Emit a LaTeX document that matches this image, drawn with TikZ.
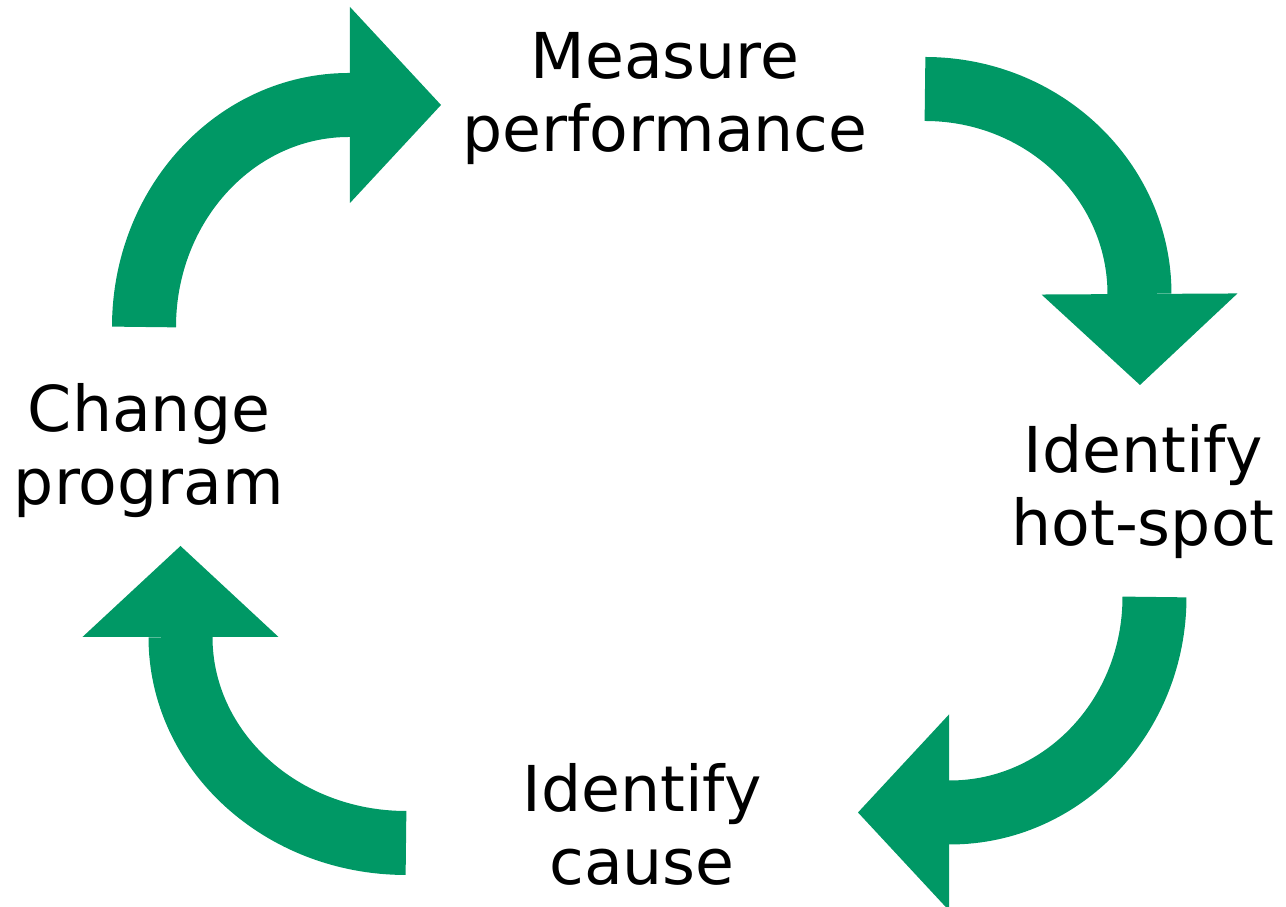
\documentclass[tikz,border=0pt]{standalone}
\usepackage{fontspec}
\setmainfont{DejaVu Sans}
\usetikzlibrary{arrows.meta}
\definecolor{cyclegreen}{RGB}{0,152,101}
\tikzset{
	phase/.style={align=center, anchor=base, inner sep=0pt, font=\fontsize{18}{20.8}\selectfont},
	cyclearrow/.style={draw=cyclegreen, line width=0.64cm,
		-{Triangle[width=1.96cm, length=0.91cm, line width=0pt]}}
}
\begin{document}
\begin{tikzpicture}
				\useasboundingbox (0,0) rectangle (12.86,9.07);
				
				\node[phase] (measure) at (6.65,7.55) {Measure\\performance};
				\node[phase] (hotspot) at (11.43,3.61) {Identify\\hot-spot};
				\node[phase] (cause) at (6.42,0.22) {Identify\\cause};
				\node[phase] (change) at (1.49,4.02) {Change\\program};
				
				\coordinate (a1) at (1.44,5.80);
				\coordinate (t1) at (4.41,8.02);
				\coordinate (a2) at (9.25,8.18);
				\coordinate (t2) at (11.40,5.22);
				\coordinate (a3) at (11.545,3.10);
				\coordinate (t3) at (8.58,0.945);
				\coordinate (a4) at (4.06,0.64);
				\coordinate (t4) at (1.805,3.61);
				
				\draw[cyclearrow] (a1) arc[start angle=180, end angle=90, x radius=2.05, y radius=2.22] -- (t1);
				\draw[cyclearrow] (a2) arc[start angle=90, end angle=0, x radius=2.145, y radius=2.05] -- (t2);
				\draw[cyclearrow] (a3) arc[start angle=0, end angle=-90, x radius=2.045, y radius=2.155] -- (t3);
				\draw[cyclearrow] (a4) arc[start angle=270, end angle=180, x radius=2.255, y radius=2.06] -- (t4);
			\end{tikzpicture}
\end{document}
